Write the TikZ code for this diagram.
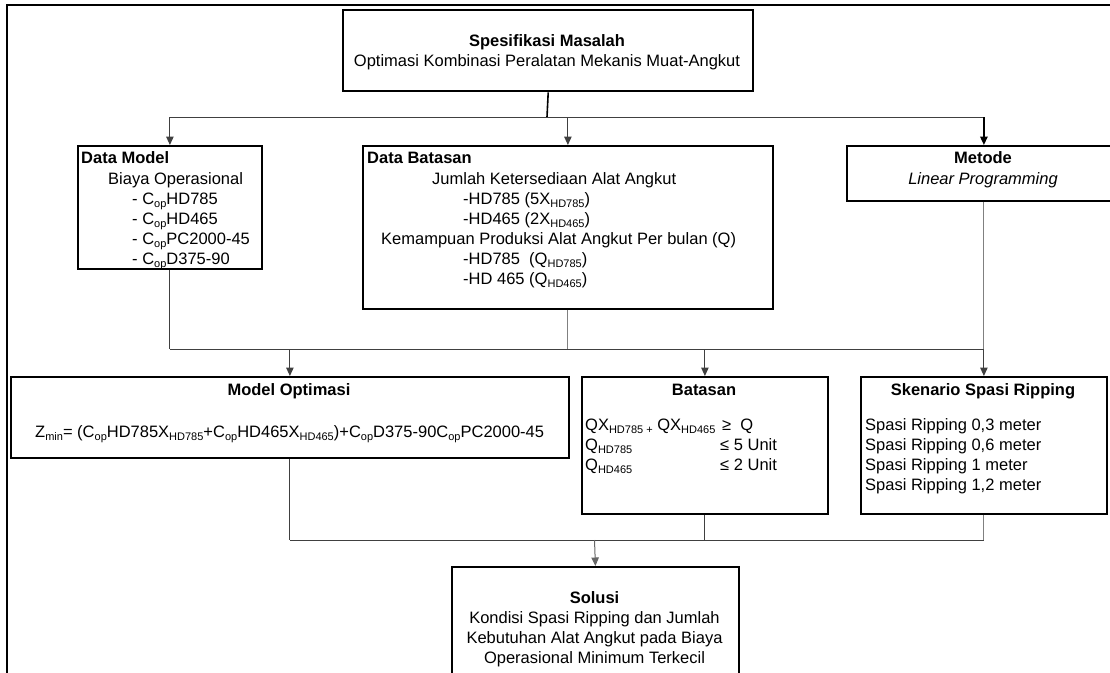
\documentclass[tikz,border=0pt]{standalone}
\usepackage{fontspec}
\setmainfont{Liberation Sans}
\usetikzlibrary{arrows.meta,calc}
\newcommand{\sbs}[1]{\raisebox{-0.35ex}{\fontsize{11}{11}\selectfont #1}}
\begin{document}
\begin{tikzpicture}[x=1pt,y=-1pt,
  box/.style={draw=black,line width=1.8pt,inner sep=0pt,anchor=north west},
  txt/.style={inner sep=0pt,font=\fontsize{16.5}{20}\selectfont},
  ttl/.style={txt,font=\fontsize{16.5}{20}\selectfont\bfseries},
  conn/.style={line width=1pt,draw=black!75},
  arr/.style={conn,-{Triangle[length=8.5pt,width=7.5pt]}}]
\useasboundingbox (0,0) rectangle (1110,672);
\clip (0,0) rectangle (1110,672);
% outer frame (cropped)
\draw[line width=1.6pt] (1120,5) -- (7,5) -- (7,690);
% boxes
\node[box,line width=2.4pt,minimum width=410pt,minimum height=81pt] (spec) at (342,9) {};
\node[box,minimum width=184pt,minimum height=123pt] (dm) at (77,145) {};
\node[box,minimum width=410pt,minimum height=163pt] (db) at (362,145) {};
\node[box,minimum width=274pt,minimum height=55pt] (met) at (846,145) {};
\node[box,minimum width=558pt,minimum height=81pt] (mo) at (10,376) {};
\node[box,minimum width=246pt,minimum height=137pt] (bt) at (581,376) {};
\node[box,minimum width=246pt,minimum height=137pt] (sk) at (860,376) {};
\node[box,minimum width=287pt,minimum height=120pt] (so) at (451,566) {};
% texts
\node[ttl,anchor=base] (specT) at (547,46) {Spesifikasi Masalah};
\node[txt,anchor=base] (specB) at (547,66) {Optimasi Kombinasi Peralatan Mekanis Muat-Angkut};
\node[ttl,anchor=base west] (dmT) at (81,163) {Data Model};
\node[txt,anchor=north west,align=left] (dmB) at (108,170) {\strut Biaya Operasional\\
  \hspace*{24pt}- C\sbs{op}HD785\\
  \hspace*{24pt}- C\sbs{op}HD465\\
  \hspace*{24pt}- C\sbs{op}PC2000-45\\
  \hspace*{24pt}- C\sbs{op}D375-90};
\node[ttl,anchor=base west] (dbT) at (367,163) {Data Batasan};
\node[txt,anchor=north west,align=left] (dbB) at (381,170) {\strut\hspace*{51pt}Jumlah Ketersediaan Alat Angkut\\
  \hspace*{82pt}-HD785 (5X\sbs{HD785})\\
  \hspace*{82pt}-HD465 (2X\sbs{HD465})\\
  Kemampuan Produksi Alat Angkut Per bulan (Q)\\
  \hspace*{82pt}-HD785\ \ (Q\sbs{HD785})\\
  \hspace*{82pt}-HD 465 (Q\sbs{HD465})};
\node[ttl,anchor=base] (metT) at (983,163) {Metode};
\node[txt,anchor=base,font=\fontsize{16.5}{20}\selectfont\itshape] (metB) at (983,184) {Linear Programming};
\node[ttl,anchor=base] (moT) at (289,395) {Model Optimasi};
\node[txt,anchor=base west] (moB) at (35,437) {Z\sbs{min}= (C\sbs{op}HD785X\sbs{HD785}+C\sbs{op}HD465X\sbs{HD465})+C\sbs{op}D375-90C\sbs{op}PC2000-45};
\node[ttl,anchor=base] (btT) at (704,395) {Batasan};
\node[txt,anchor=north west,align=left] (btB) at (585,416) {\strut\makebox[137pt][l]{QX\sbs{HD785 +} QX\sbs{HD465}}≥\ \ Q\\
  \makebox[135pt][l]{Q\sbs{HD785}}≤ 5 Unit\\
  \makebox[135pt][l]{Q\sbs{HD465}}≤ 2 Unit};
\node[ttl,anchor=base] (skT) at (983,395) {Skenario Spasi Ripping};
\node[txt,anchor=north west,align=left] (skB) at (865,416) {\strut Spasi Ripping 0,3 meter\\
  Spasi Ripping 0,6 meter\\
  Spasi Ripping 1 meter\\
  Spasi Ripping 1,2 meter};
\node[ttl,anchor=base] (soT) at (594.5,603) {Solusi};
\node[txt,anchor=north,align=center] (soB) at (594.5,609) {\strut Kondisi Spasi Ripping dan Jumlah\\
  Kebutuhan Alat Angkut pada Biaya\\
  Operasional Minimum Terkecil};
% connectors
\coordinate (j1) at (547,117);
\coordinate (j2) at (600,349);
\coordinate (j3) at (594.5,540);
\draw[conn,line width=1.6pt,draw=black] (spec.south) -- (j1);
\draw[conn] (dm.north |- j1) -- (met.north |- j1);
\draw[arr] (dm.north |- j1) -- (dm.north);
\draw[arr] (db.north |- j1) -- (db.north);
\draw[arr,line width=1.5pt,draw=black] (met.north |- j1) -- (met.north);
\draw[conn] (dm.south) -- (dm.south |- j2);
\draw[conn,draw=black!50] (db.south) -- (db.south |- j2);
\draw[conn,draw=black!50] (met.south) -- (met.south |- j2);
\draw[conn] (dm.south |- j2) -- (met.south |- j2);
\draw[arr] (mo.north |- j2) -- (mo.north);
\draw[arr] (bt.north |- j2) -- (bt.north);
\draw[arr] (sk.north |- j2) -- (sk.north);
\draw[conn] (mo.south) -- (mo.south |- j3);
\draw[conn] (bt.south) -- (bt.south |- j3);
\draw[conn,draw=black!50] (sk.south) -- (sk.south |- j3);
\draw[conn] (mo.south |- j3) -- (sk.south |- j3);
\draw[arr,draw=black!60] (j3) -- (so.north);
\end{tikzpicture}
\end{document}
